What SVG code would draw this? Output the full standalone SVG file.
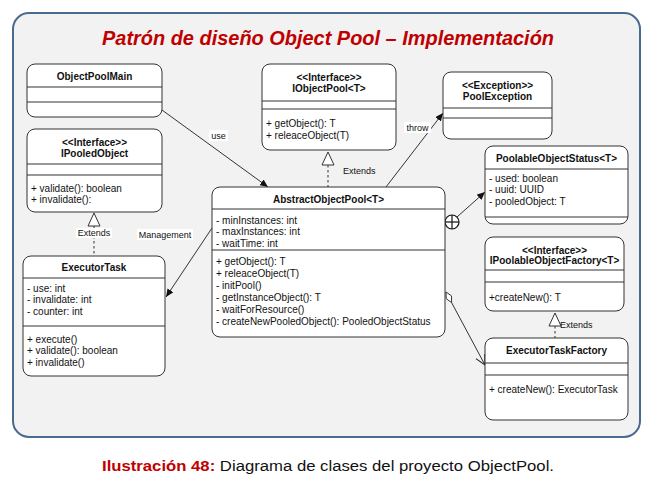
<svg xmlns="http://www.w3.org/2000/svg" width="652" height="487" viewBox="0 0 652 487">
<defs>
<marker id="arrow" markerUnits="userSpaceOnUse" markerWidth="9" markerHeight="7" refX="8" refY="3.5" orient="auto"><path d="M0,0 L8,3.5 L0,7 z" fill="#111"/></marker>
<marker id="open" markerUnits="userSpaceOnUse" markerWidth="11" markerHeight="11" refX="10" refY="5" orient="auto"><path d="M0,0 L10,5 L0,10" fill="none" stroke="#222" stroke-width="1"/></marker>
</defs>
<style>
.box{fill:#fff;stroke:#333;stroke-width:1}
.div{stroke:#333;stroke-width:1}
text{font-family:"Liberation Sans",Arial,Helvetica,sans-serif;font-size:10px;fill:#111}
.b{font-weight:bold}
.c{text-anchor:middle}
.lbl{font-size:9px}
.lbg{fill:#fff}
.con{stroke:#333;stroke-width:1;fill:none}
.dash{stroke:#333;stroke-width:1;stroke-dasharray:2.5,2.5;fill:none}
.tri{fill:#fff;stroke:#333;stroke-width:1}
</style>
<rect x="13" y="13" width="627" height="424" rx="16" fill="#f2f2f2" stroke="#4a6a90" stroke-width="2"/>
<text x="328" y="45" class="c" style="font-size:20px;font-weight:bold;font-style:italic;fill:#c00000" textLength="452" lengthAdjust="spacingAndGlyphs">Patrón de diseño Object Pool – Implementación</text>

<g id="connectors">
<line x1="162" y1="110" x2="268" y2="187" class="con" marker-end="url(#arrow)"/>
<rect x="209" y="130" width="19" height="11" class="lbg"/>
<text x="218.5" y="139" class="c lbl">use</text>
<line x1="386" y1="187" x2="443" y2="113" class="con" marker-end="url(#arrow)"/>
<rect x="404" y="122" width="27" height="11" class="lbg"/>
<text x="417.5" y="131" class="c lbl">throw</text>
<line x1="212" y1="228" x2="166" y2="297" class="con" marker-end="url(#arrow)"/>
<rect x="137" y="229" width="56" height="11" class="lbg"/>
<text x="165" y="238" class="c lbl">Management</text>
<line x1="328" y1="165" x2="328" y2="187" class="dash"/>
<polygon points="328,152 334,165 322,165" class="tri"/>
<text x="343" y="174" class="lbl">Extends</text>
<line x1="94" y1="226" x2="94" y2="256" class="dash"/>
<polygon points="94,213 100,226 88,226" class="tri"/>
<rect x="76" y="228" width="36" height="10" class="lbg"/>
<text x="94" y="236" class="c lbl">Extends</text>
<line x1="555" y1="326" x2="555" y2="338" class="dash"/>
<polygon points="555,313 561,326 549,326" class="tri"/>
<text x="560" y="328" class="lbl">Extends</text>
<line x1="457" y1="217" x2="485" y2="192" class="con" marker-end="url(#arrow)"/>
<circle cx="452" cy="222" r="7" fill="#fff" stroke="#111" stroke-width="1.2"/>
<line x1="445" y1="222" x2="459" y2="222" stroke="#111" stroke-width="1.2"/>
<line x1="452" y1="215" x2="452" y2="229" stroke="#111" stroke-width="1.2"/>
<polygon points="446,292 446.2,298.7 451.6,302.6 451.5,295.9" fill="#fff" stroke="#333" stroke-width="1"/>
<line x1="451.6" y1="302.6" x2="485" y2="365" class="con" marker-end="url(#open)"/>
</g>

<g id="ObjectPoolMain">
<rect x="27" y="64" width="135" height="53" rx="8" class="box"/>
<line x1="27" y1="87" x2="162" y2="87" class="div"/>
<line x1="27" y1="102" x2="162" y2="102" class="div"/>
<text x="94.5" y="79.5" class="c b">ObjectPoolMain</text>
</g>

<g id="IPooledObject">
<rect x="27" y="129" width="135" height="83" rx="8" class="box"/>
<line x1="27" y1="164" x2="162" y2="164" class="div"/>
<line x1="27" y1="175" x2="162" y2="175" class="div"/>
<text x="94.5" y="145.5" class="c b">&lt;&lt;Interface&gt;&gt;</text>
<text x="94.5" y="157" class="c b">IPooledObject</text>
<text x="31" y="191.5">+ validate(): boolean</text>
<text x="31" y="203">+ invalidate():</text>
</g>

<g id="IObjectPool">
<rect x="262" y="64" width="134" height="86" rx="8" class="box"/>
<line x1="262" y1="101" x2="396" y2="101" class="div"/>
<line x1="262" y1="109" x2="396" y2="109" class="div"/>
<text x="329" y="80.5" class="c b">&lt;&lt;Interface&gt;&gt;</text>
<text x="329" y="91.5" class="c b">IObjectPool&lt;T&gt;</text>
<text x="266" y="127">+ getObject(): T</text>
<text x="266" y="138.5">+ releaceObject(T)</text>
</g>

<g id="PoolException">
<rect x="443" y="72" width="109" height="67" rx="8" class="box"/>
<line x1="443" y1="108" x2="552" y2="108" class="div"/>
<line x1="443" y1="118" x2="552" y2="118" class="div"/>
<text x="497.5" y="89" class="c b">&lt;&lt;Exception&gt;&gt;</text>
<text x="497.5" y="99.5" class="c b">PoolException</text>
</g>

<g id="PoolableObjectStatus">
<rect x="485" y="146" width="143" height="78" rx="8" class="box"/>
<line x1="485" y1="169" x2="628" y2="169" class="div"/>
<line x1="485" y1="217" x2="628" y2="217" class="div"/>
<text x="556.5" y="162" class="c b">PoolableObjectStatus&lt;T&gt;</text>
<text x="489" y="181.5">- used: boolean</text>
<text x="489" y="193">- uuid: UUID</text>
<text x="489" y="205">- pooledObject: T</text>
</g>

<g id="AbstractObjectPool">
<rect x="212" y="187" width="233" height="150" rx="8" class="box"/>
<line x1="212" y1="209" x2="445" y2="209" class="div"/>
<line x1="212" y1="250" x2="445" y2="250" class="div"/>
<text x="328.5" y="202.5" class="c b">AbstractObjectPool&lt;T&gt;</text>
<text x="216" y="223.5">- minInstances: int</text>
<text x="216" y="235">- maxInstances: int</text>
<text x="216" y="246.5">- waitTime: int</text>
<text x="216" y="265">+ getObject(): T</text>
<text x="216" y="277">+ releaceObject(T)</text>
<text x="216" y="289">- initPool()</text>
<text x="216" y="301">- getInstanceObject(): T</text>
<text x="216" y="313">- waitForResource()</text>
<text x="216" y="325">- createNewPooledObject(): PooledObjectStatus</text>
</g>

<g id="ExecutorTask">
<rect x="23" y="256" width="142" height="120" rx="8" class="box"/>
<line x1="23" y1="278" x2="165" y2="278" class="div"/>
<line x1="23" y1="326" x2="165" y2="326" class="div"/>
<text x="94" y="270.5" class="c b">ExecutorTask</text>
<text x="27" y="291.5">- use: int</text>
<text x="27" y="303">- invalidate: int</text>
<text x="27" y="314.5">- counter: int</text>
<text x="27" y="342.5">+ execute()</text>
<text x="27" y="354">+ validate(): boolean</text>
<text x="27" y="366">+ invalidate()</text>
</g>

<g id="IPoolableObjectFactory">
<rect x="485" y="237" width="139" height="74" rx="8" class="box"/>
<line x1="485" y1="270" x2="624" y2="270" class="div"/>
<line x1="485" y1="282" x2="624" y2="282" class="div"/>
<text x="554.5" y="253.5" class="c b">&lt;&lt;Interface&gt;&gt;</text>
<text x="554.5" y="264" class="c b">IPoolableObjectFactory&lt;T&gt;</text>
<text x="489" y="300.5">+createNew(): T</text>
</g>

<g id="ExecutorTaskFactory">
<rect x="485" y="338" width="143" height="82" rx="8" class="box"/>
<line x1="485" y1="363" x2="628" y2="363" class="div"/>
<line x1="485" y1="375" x2="628" y2="375" class="div"/>
<text x="556.5" y="353.5" class="c b">ExecutorTaskFactory</text>
<text x="489" y="392.5">+ createNew(): ExecutorTask</text>
</g>

<text x="328" y="471" class="c" style="font-size:15.5px" textLength="452" lengthAdjust="spacingAndGlyphs"><tspan style="font-weight:bold;fill:#c00000">Ilustración 48:</tspan> Diagrama de clases del proyecto ObjectPool.</text>
</svg>
